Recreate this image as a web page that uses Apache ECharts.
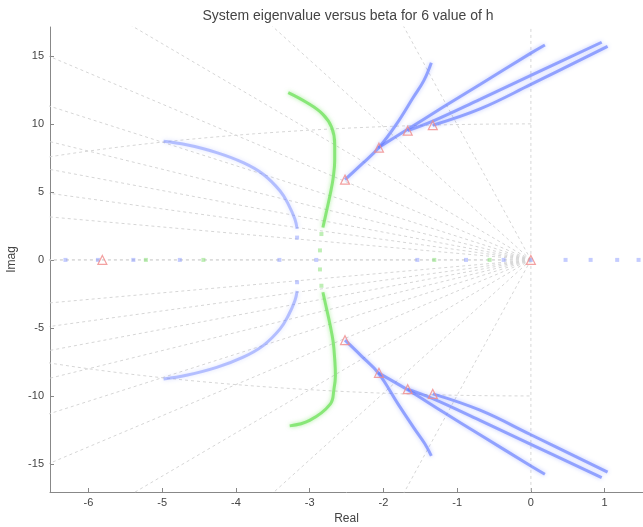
<!DOCTYPE html>
<html>
<head>
<meta charset="utf-8">
<script src="https://cdn.jsdelivr.net/npm/echarts@6/dist/echarts.min.js"></script>
<style>
html,body{margin:0;padding:0;background:#fff;}
#c{width:643px;height:527px;}
</style>
</head>
<body>
<div id="c"></div>
<script>
// ---- tick labels ----
const xTicks = [-6, -5, -4, -3, -2, -1, 0, 1];
const yTicks = [-15, -10, -5, 0, 5, 10, 15];
// ---- s-plane grid (damping ratios and natural frequencies) ----
const zetaList = [0, 0.1, 0.2, 0.3, 0.4, 0.5, 0.6, 0.7, 0.8, 0.9, 1];
const wnList = [10];

// ---- blue trajectories ----
const blueArcUp = [[-4.98,8.72],[-4.67,8.46],[-4.26,7.89],[-3.90,7.15],[-3.63,6.30],[-3.40,5.07],[-3.29,4.10],[-3.20,3.00],[-3.17,2.28]];
const blueArcDn = [[-4.98,-8.75],[-4.67,-8.48],[-4.26,-7.90],[-3.90,-7.15],[-3.63,-6.30],[-3.40,-5.07],[-3.29,-4.10],[-3.20,-3.00],[-3.17,-2.28]];
const blueAUp = [[-2.52,5.90],[-2.30,7.00],[-2.07,8.20],[-1.82,10.00],[-1.60,11.90],[-1.45,13.20],[-1.35,14.50]];
const blueADn = [[-2.52,-5.90],[-2.30,-7.05],[-2.07,-8.30],[-1.80,-10.60],[-1.58,-12.40],[-1.44,-13.50],[-1.35,-14.40]];
const blueB2Up = [[-2.07,8.25],[-1.67,9.60],[-1.20,11.20],[-0.69,12.90],[0.00,15.20],[0.19,15.80]];
const blueB2Dn = [[-2.07,-8.30],[-1.67,-9.55],[-1.20,-11.15],[-0.69,-12.85],[0.00,-15.15],[0.19,-15.76]];
const blueB3Up = [[-1.67,9.50],[-1.33,10.20],[-0.69,11.80],[0.00,13.56],[0.96,16.00]];
const blueB3Dn = [[-1.67,-9.50],[-1.33,-10.20],[-0.69,-11.80],[0.00,-13.56],[0.96,-16.00]];
const blueB4Up = [[-1.33,9.90],[-0.69,11.10],[0.00,12.90],[1.04,15.70]];
const blueB4Dn = [[-1.33,-9.85],[-0.69,-11.05],[0.00,-12.85],[1.04,-15.60]];
// isolated blue eigenvalues
const blueDots = [[-6.31,0],[-5.87,0],[-5.39,0],[-4.76,0],[-3.41,0],[-2.91,0],[-1.54,0],[-0.88,0],[-0.37,0],[0,0],[0.47,0],[0.81,0],[1.17,0],[1.46,0],[-3.17,1.64],[-3.17,-1.64]];

// ---- green trajectory ----
const greenUp = [[-3.29,12.30],[-3.04,11.57],[-2.82,10.70],[-2.70,9.73],[-2.66,8.50],[-2.66,7.28],[-2.68,6.05],[-2.72,4.84],[-2.77,3.60],[-2.82,2.38]];
const greenDn = [[-2.82,-2.38],[-2.77,-3.60],[-2.72,-4.84],[-2.68,-6.05],[-2.66,-7.28],[-2.65,-8.50],[-2.67,-9.50],[-2.72,-10.60],[-3.00,-11.80],[-3.27,-12.20]];
const greenDots = [[-5.22,0],[-4.44,0],[-1.31,0],[-0.56,0],[-2.84,1.90],[-2.86,0.70],[-2.86,-0.70],[-2.84,-1.90]];

// ---- starting eigenvalues (red triangles) ----
const redStart = [[-2.52,5.90],[-2.06,8.25],[-1.67,9.50],[-1.33,9.90],[-2.52,-5.90],[-2.06,-8.30],[-1.67,-9.50],[-1.33,-9.85],[-5.81,0],[0,0]];

const BLUE = 'rgba(95,120,255,0.62)';
const BLUE_LIGHT = 'rgba(120,140,255,0.5)';
const GREEN = 'rgba(110,225,90,0.75)';
const GRIDC = '#d6d6d6';

const series = [];
// grid rays
const R = 60;
zetaList.forEach(z => {
  const s = Math.sqrt(1 - z * z);
  [1, -1].forEach(sg => {
    series.push({type:'line', silent:true, symbol:'none', z:1,
      lineStyle:{color:GRIDC, width:1, type:[3,3]},
      data:[[0,0],[-R*z, sg*R*s]]});
  });
});
// grid circles (left half plane)
wnList.forEach(w => {
  const pts = [];
  for (let a = 90; a <= 270; a += 2) {
    const t = a * Math.PI / 180;
    pts.push([w*Math.cos(t), w*Math.sin(t)]);
  }
  series.push({type:'line', silent:true, symbol:'none', z:1,
    lineStyle:{color:GRIDC, width:1, type:[3,3]}, data:pts});
});

function curve(data, color, w) {
  series.push({type:'line', smooth:0.4, symbol:'none', z:3, data:data,
    lineStyle:{color:color, width:w, shadowBlur:4, shadowColor:color}});
}
[blueArcUp, blueArcDn].forEach(d => curve(d, BLUE_LIGHT, 3));
[blueAUp, blueADn, blueB2Up, blueB2Dn, blueB3Up, blueB3Dn, blueB4Up, blueB4Dn].forEach(d => curve(d, BLUE, 3));
[greenUp, greenDn].forEach(d => curve(d, GREEN, 3));

series.push({type:'scatter', z:4, symbol:'rect', symbolSize:4, data:blueDots,
  itemStyle:{color:'rgba(120,140,255,0.55)'}});
series.push({type:'scatter', z:4, symbol:'rect', symbolSize:4, data:greenDots,
  itemStyle:{color:'rgba(120,220,100,0.6)'}});
series.push({type:'scatter', z:5, symbol:'triangle', symbolSize:9, data:redStart,
  itemStyle:{color:'rgba(255,255,255,0)', borderColor:'#f08a8a', borderWidth:1.2}});

const chart = echarts.init(document.getElementById('c'), null, {renderer:'canvas'});
const FONT = 'Liberation Sans, Arial, sans-serif';
chart.setOption({
  animation:false,
  backgroundColor:'#fff',
  title:{text:'System eigenvalue versus beta for 6 value of h', left:343, textAlign:'center', top:4,
    textStyle:{fontSize:14, fontWeight:'normal', color:'#444', fontFamily:FONT}},
  grid:{left:50, right:0, top:27, bottom:35, containLabel:false, outerBoundsMode:'none'},
  xAxis:{type:'value', min:-6.52, max:1.52,
    name:'Real', nameLocation:'middle', nameGap:17,
    nameTextStyle:{fontSize:12, color:'#444', fontFamily:FONT},
    axisLine:{show:true, onZero:false, lineStyle:{color:'#888'}},
    axisTick:{show:true, inside:true, length:4, customValues:xTicks, lineStyle:{color:'#888'}},
    axisLabel:{customValues:xTicks, fontSize:11, color:'#444', margin:5, fontFamily:FONT},
    splitLine:{show:false}},
  yAxis:{type:'value', min:-17.06, max:17.12,
    name:'Imag', nameLocation:'middle', nameGap:32,
    nameTextStyle:{fontSize:12, color:'#444', fontFamily:FONT},
    axisLine:{show:true, onZero:false, lineStyle:{color:'#888'}},
    axisTick:{show:true, inside:true, length:4, customValues:yTicks, lineStyle:{color:'#888'}},
    axisLabel:{customValues:yTicks, fontSize:11, color:'#444', margin:6, fontFamily:FONT},
    splitLine:{show:false}},
  series:series
});
</script>
</body>
</html>
